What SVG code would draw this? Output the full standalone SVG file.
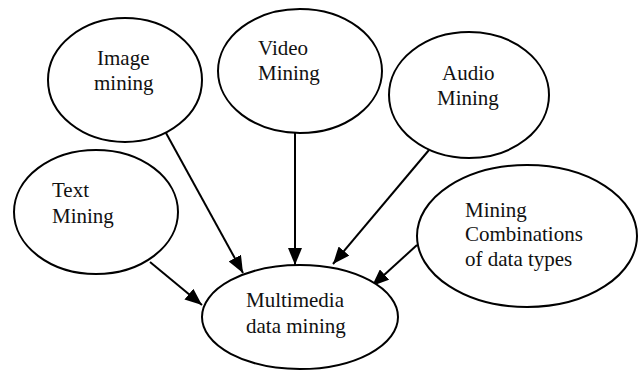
<svg xmlns="http://www.w3.org/2000/svg" width="639" height="370" viewBox="0 0 639 370">
  <style>
    .node ellipse { fill: #ffffff; stroke: #000000; stroke-width: 2; }
    .node text { font-family: "Liberation Serif", "Times New Roman", Times, Tinos, "DejaVu Serif", "Noto Serif", FreeSerif, serif; font-size: 21px; fill: #111111; }
    .edge { stroke: #000000; stroke-width: 2; fill: none; marker-end: url(#arrow); }
  </style>
  <defs>
    <marker id="arrow" markerUnits="userSpaceOnUse" markerWidth="18" markerHeight="14" refX="17" refY="7" orient="auto">
      <path d="M0,0 L17,7 L0,14 Z" fill="#000000"/>
    </marker>
  </defs>
  <rect width="639" height="370" fill="#ffffff"/>

  <g id="connectors">
    <line class="edge" x1="166" y1="133" x2="243" y2="273"/>
    <line class="edge" x1="295" y1="133" x2="295" y2="265"/>
    <line class="edge" x1="429" y1="150" x2="333" y2="264"/>
    <line class="edge" x1="417" y1="245" x2="372" y2="286"/>
    <line class="edge" x1="150" y1="262" x2="202" y2="305"/>
  </g>

  <g id="image-mining" class="node">
    <ellipse cx="125" cy="80" rx="77" ry="62"/>
    <text x="97" y="65">Image</text>
    <text x="94" y="90">mining</text>
  </g>

  <g id="video-mining" class="node">
    <ellipse cx="300" cy="71" rx="82" ry="62"/>
    <text x="258" y="55">Video</text>
    <text x="258" y="80">Mining</text>
  </g>

  <g id="audio-mining" class="node">
    <ellipse cx="469" cy="95" rx="80" ry="63"/>
    <text x="442" y="80">Audio</text>
    <text x="437" y="105">Mining</text>
  </g>

  <g id="text-mining" class="node">
    <ellipse cx="96" cy="212" rx="82" ry="62"/>
    <text x="52" y="197">Text</text>
    <text x="52" y="223">Mining</text>
  </g>

  <g id="combinations" class="node">
    <ellipse cx="527" cy="236" rx="110" ry="71"/>
    <text x="465" y="217">Mining</text>
    <text x="465" y="241">Combinations</text>
    <text x="465" y="266">of data types</text>
  </g>

  <g id="multimedia" class="node">
    <ellipse cx="300" cy="317" rx="98" ry="52"/>
    <text x="246" y="307">Multimedia</text>
    <text x="246" y="333">data mining</text>
  </g>
</svg>
